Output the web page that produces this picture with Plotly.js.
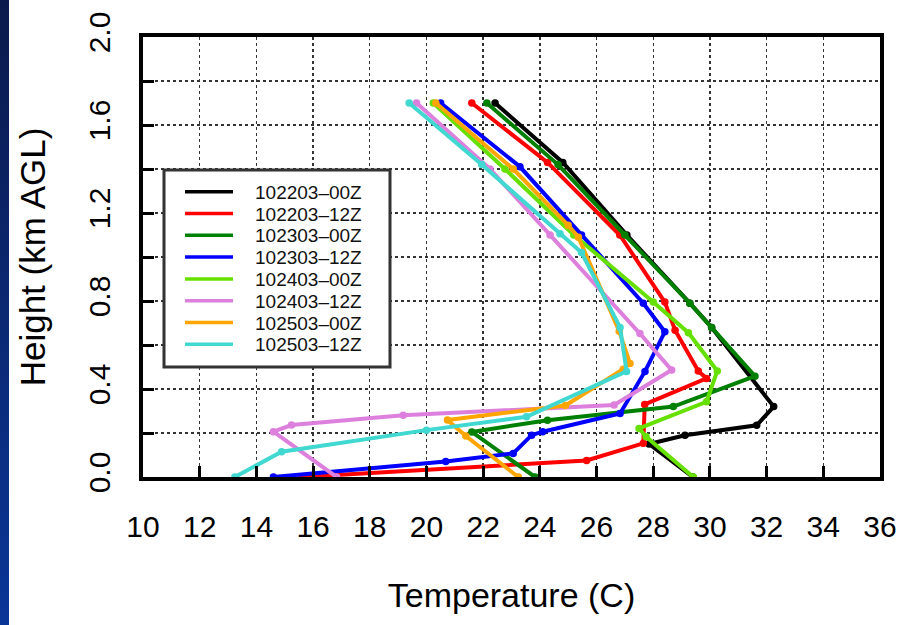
<!DOCTYPE html>
<html><head><meta charset="utf-8">
<script src="https://cdn.plot.ly/plotly-3.0.1.min.js"></script>
<style>
html,body{margin:0;padding:0;background:#fff;}
body{width:910px;height:625px;overflow:hidden;position:relative;}
#strip{position:absolute;left:0;top:0;width:9px;height:625px;background:linear-gradient(#0b1a4c,#0a3698);z-index:5;}
#chart{width:910px;height:625px;}
</style></head><body>
<div id="strip"></div>
<div id="chart"></div>
<script>
// ---- data (temperature C, height km AGL), surface upward ----
const seriesNames = ["102203\u201300Z","102203\u201312Z","102303\u201300Z","102303\u201312Z","102403\u201300Z","102403\u201312Z","102503\u201300Z","102503\u201312Z"];
const seriesColors = ["#000000","#ff0000","#008000","#0000ff","#66e000","#dd80dd","#ffa500","#40d8d0"];

const temp_102203_00Z = [29.4, 27.85, 29.12, 31.65, 32.25, 30.06, 29.29, 27.07, 24.81, 22.42];
const hgt_102203_00Z  = [0.0, 0.15, 0.19, 0.235, 0.32, 0.68, 0.79, 1.10, 1.43, 1.70];

const temp_102203_12Z = [15.6, 25.65, 27.65, 27.7, 29.88, 29.59, 28.77, 28.41, 26.82, 24.27, 21.6];
const hgt_102203_12Z  = [0.0, 0.075, 0.153, 0.33, 0.448, 0.482, 0.667, 0.795, 1.10, 1.43, 1.70];

const temp_102303_00Z = [23.83, 21.6, 24.27, 28.71, 31.59, 30.06, 29.29, 27.0, 24.64, 22.13];
const hgt_102303_00Z  = [0.0, 0.205, 0.258, 0.32, 0.458, 0.68, 0.79, 1.10, 1.42, 1.70];

const temp_102303_12Z = [14.6, 20.68, 23.06, 23.71, 24.1, 26.83, 27.71, 28.41, 27.65, 25.47, 23.3, 20.5];
const hgt_102303_12Z  = [0.0, 0.07, 0.107, 0.19, 0.206, 0.289, 0.48, 0.66, 0.79, 1.10, 1.41, 1.70];

const temp_102403_00Z = [29.41, 27.75, 27.5, 29.88, 30.26, 29.24, 28.0, 25.2, 22.77, 20.24];
const hgt_102403_00Z  = [0.0, 0.183, 0.221, 0.342, 0.482, 0.656, 0.796, 1.10, 1.40, 1.70];

const temp_102403_12Z = [16.83, 14.6, 15.24, 19.18, 26.62, 28.65, 27.53, 24.36, 22.24, 19.65];
const hgt_102403_12Z  = [0.0, 0.206, 0.236, 0.281, 0.327, 0.486, 0.652, 1.10, 1.40, 1.70];

const temp_102503_00Z = [23.24, 21.39, 20.74, 24.9, 26.94, 27.18, 26.8, 25.36, 25.0, 23.06, 20.33];
const hgt_102503_00Z  = [0.0, 0.186, 0.259, 0.325, 0.49, 0.516, 0.663, 1.09, 1.144, 1.40, 1.70];

const temp_102503_12Z = [13.24, 14.89, 20.0, 23.53, 27.06, 26.83, 25.47, 24.71, 21.95, 19.39];
const hgt_102503_12Z  = [0.0, 0.115, 0.213, 0.274, 0.48, 0.68, 1.02, 1.106, 1.42, 1.70];

const xTicks = [10,12,14,16,18,20,22,24,26,28,30,32,34,36];
const yTicks = [0.0,0.4,0.8,1.2,1.6,2.0];

const temps = [temp_102203_00Z,temp_102203_12Z,temp_102303_00Z,temp_102303_12Z,temp_102403_00Z,temp_102403_12Z,temp_102503_00Z,temp_102503_12Z];
const hgts  = [hgt_102203_00Z,hgt_102203_12Z,hgt_102303_00Z,hgt_102303_12Z,hgt_102403_00Z,hgt_102403_12Z,hgt_102503_00Z,hgt_102503_12Z];

const traces = [];
temps.forEach((t,i)=>{
  traces.push({x:t, y:hgts[i], type:'scatter', mode:'lines+markers', name:seriesNames[i],
    line:{color:seriesColors[i], width:4}, marker:{color:seriesColors[i], size:7.5}, showlegend:false});
});

// manual legend (box, line samples, labels) in paper coordinates
const L0 = 143, T0 = 37, PW = 737, PH = 440;
const px = v => (v - L0)/PW;
const py = v => 1 - (v - T0)/PH;
const shapes = [{type:'rect', xref:'paper', yref:'paper', x0:px(164), x1:px(390), y0:py(367), y1:py(170),
  line:{color:'#333', width:3}, fillcolor:'#fff', layer:'above'}];
const annotations = [];
seriesNames.forEach((n,i)=>{
  const yy = 191.7 + i*21.8;
  shapes.push({type:'line', xref:'paper', yref:'paper', x0:px(185), x1:px(233), y0:py(yy), y1:py(yy),
    line:{color:seriesColors[i], width:3.5}, layer:'above'});
  annotations.push({xref:'paper', yref:'paper', x:px(254), y:py(yy), xanchor:'left', yanchor:'middle',
    text:n, showarrow:false, borderpad:0, height:20,
    font:{family:'Liberation Sans, Arial, sans-serif', size:19, color:'#111'}});
});

const gridStyle = {showgrid:true, gridcolor:'#333', gridwidth:1.4, griddash:'dot'};
const layout = {
  width:910, height:625,
  margin:{l:143, r:30, t:37, b:148, pad:0},
  paper_bgcolor:'rgba(0,0,0,0)', plot_bgcolor:'#fff',
  font:{family:'Liberation Sans, Arial, sans-serif', color:'#000'},
  showlegend:false,
  xaxis:Object.assign({range:[10,36], tickvals:xTicks, ticktext:xTicks.map(String),
    ticks:'inside', ticklen:11, tickwidth:3, tickcolor:'#000',
    showline:true, linewidth:4, linecolor:'#000', mirror:true, zeroline:false,
    tickfont:{size:30}, ticklabelstandoff:20,
    title:{text:'Temperature (C)', font:{size:34}, standoff:42}}, gridStyle),
  yaxis:Object.assign({range:[0,2], tickvals:yTicks, ticktext:yTicks.map(v=>v.toFixed(1)), tickangle:-90,
    ticks:'inside', ticklen:11, tickwidth:3, tickcolor:'#000',
    showline:true, linewidth:4, linecolor:'#000', mirror:true, zeroline:false,
    tickfont:{size:30}, ticklabelstandoff:17,
    minor:{dtick:0.2, tick0:0, ticks:'inside', ticklen:11, tickwidth:3, tickcolor:'#000',
      showgrid:true, gridcolor:'#333', gridwidth:1.4, griddash:'dot'},
    title:{text:'Height (km AGL)', font:{size:35}, standoff:28}}, gridStyle),
  shapes:shapes, annotations:annotations
};
Plotly.newPlot('chart', traces, layout, {staticPlot:true, displayModeBar:false});
</script>
</body></html>
